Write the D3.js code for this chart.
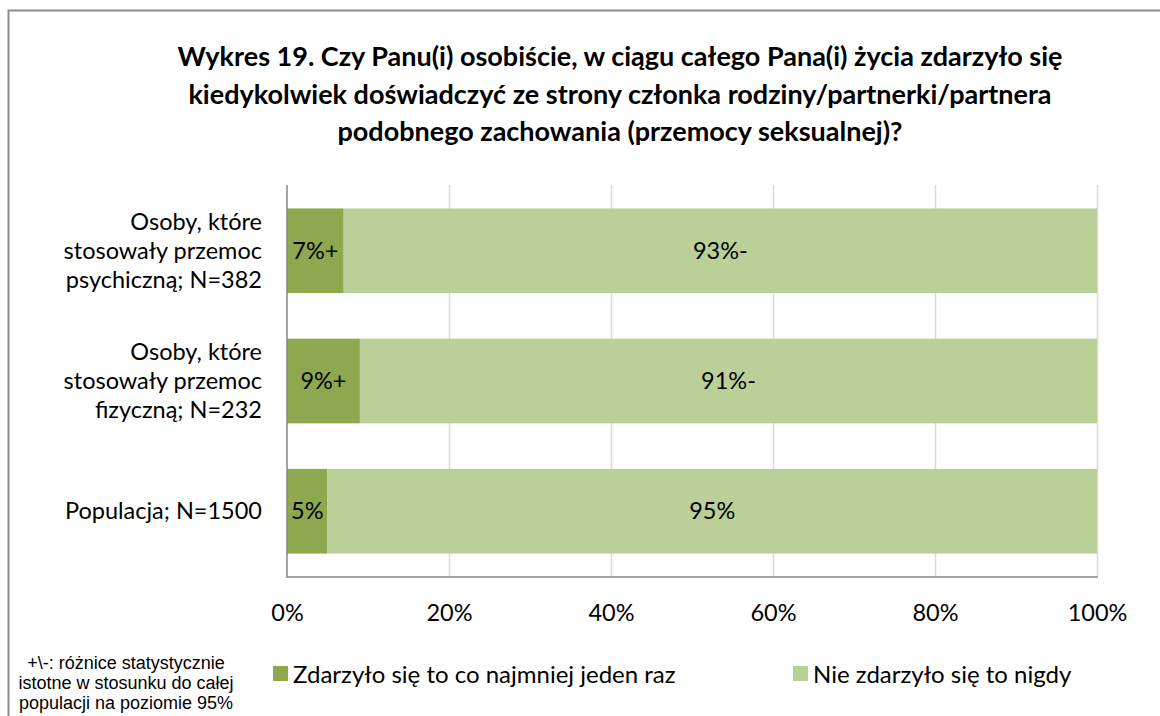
<!DOCTYPE html>
<html>
<head>
<meta charset="utf-8">
<script src="https://cdn.jsdelivr.net/npm/d3@7"></script>
<style>
  body { margin: 0; background: #fff; }
  svg text { font-family: Lato, "Open Sans", sans-serif; }
</style>
</head>
<body>
<div id="chart"></div>
<script>
// dane wykresu
const titleLines = [
    'Wykres 19. Czy Panu(i) osobiście, w ciągu całego Pana(i) życia zdarzyło się',
    'kiedykolwiek doświadczyć ze strony członka rodziny/partnerki/partnera',
    'podobnego zachowania (przemocy seksualnej)?'
];
const categories = [
    ['Osoby, które', 'stosowały przemoc', 'psychiczną; N=382'],
    ['Osoby, które', 'stosowały przemoc', 'fizyczną; N=232'],
    ['Populacja; N=1500']
];
const seriesNames = ['Zdarzyło się to co najmniej jeden raz', 'Nie zdarzyło się to nigdy'];
const happened = [7, 9, 5];
const never = [93, 91, 95];
const happenedLabels = ['7%+', '9%+', '5%'];
const neverLabels = ['93%-', '91%-', '95%'];
const tickValues = [0, 20, 40, 60, 80, 100];
const footnote = ['+\\-: różnice statystycznie', 'istotne w stosunku do całej', 'populacji na poziomie 95%'];

const colors = ['#8ea850', '#bbcf99'];
const fontSize = 23.5;

const width = 1160, height = 716;
const svg = d3.select('#chart').append('svg')
    .attr('width', width)
    .attr('height', height);

// ramka wykresu
svg.append('path')
    .attr('d', `M8.5,${height} V10.5 H${width}`)
    .attr('fill', 'none')
    .attr('stroke', '#8c8c8c')
    .attr('stroke-width', 2);

// tytuł
svg.append('text')
    .attr('text-anchor', 'middle')
    .attr('font-weight', 'bold')
    .attr('font-size', 27)
    .attr('fill', '#000')
    .selectAll('tspan')
    .data(titleLines)
    .join('tspan')
    .attr('x', 620)
    .attr('y', (d, i) => 66 + i * 37.5)
    .text(d => d);

const plot = { left: 287, right: 1097, top: 185, bottom: 577 };

const x = d3.scaleLinear().domain([0, 100]).range([plot.left, plot.right]);
const y = d3.scaleBand()
    .domain(d3.range(categories.length))
    .range([plot.top, plot.bottom])
    .paddingInner(0.35)
    .paddingOuter(0.18);

// linie siatki
svg.append('g')
    .selectAll('line')
    .data(tickValues.slice(1))
    .join('line')
    .attr('x1', d => x(d) + 0.5)
    .attr('x2', d => x(d) + 0.5)
    .attr('y1', plot.top)
    .attr('y2', plot.bottom)
    .attr('stroke', '#d9d9d9')
    .attr('stroke-width', 1.5);

// słupki
const rows = categories.map((c, i) => ({ i, a: happened[i], b: never[i] }));
const g = svg.append('g');
g.selectAll('rect.a')
    .data(rows)
    .join('rect')
    .attr('class', 'a')
    .attr('x', x(0))
    .attr('y', d => y(d.i))
    .attr('width', d => x(d.a) - x(0))
    .attr('height', y.bandwidth())
    .attr('fill', colors[0]);
g.selectAll('rect.b')
    .data(rows)
    .join('rect')
    .attr('class', 'b')
    .attr('x', d => x(d.a))
    .attr('y', d => y(d.i))
    .attr('width', d => x(d.a + d.b) - x(d.a))
    .attr('height', y.bandwidth())
    .attr('fill', colors[1]);

// etykiety danych
g.selectAll('text.la')
    .data(rows)
    .join('text')
    .attr('class', 'la')
    .attr('x', d => (x(0) + x(d.a)) / 2)
    .attr('y', d => y(d.i) + y.bandwidth() / 2 + 8)
    .attr('text-anchor', 'middle')
    .attr('font-size', fontSize)
    .text(d => happenedLabels[d.i]);
g.selectAll('text.lb')
    .data(rows)
    .join('text')
    .attr('class', 'lb')
    .attr('x', d => (x(d.a) + x(d.a + d.b)) / 2)
    .attr('y', d => y(d.i) + y.bandwidth() / 2 + 8)
    .attr('text-anchor', 'middle')
    .attr('font-size', fontSize)
    .text(d => neverLabels[d.i]);

// osie
svg.append('line')
    .attr('x1', plot.left).attr('x2', plot.left)
    .attr('y1', plot.top).attr('y2', plot.bottom + 1)
    .attr('stroke', '#868686').attr('stroke-width', 1.5);
svg.append('line')
    .attr('x1', plot.left).attr('x2', plot.right + 1)
    .attr('y1', plot.bottom).attr('y2', plot.bottom)
    .attr('stroke', '#868686').attr('stroke-width', 1.5);

const xAxis = d3.axisBottom(x)
    .tickValues(tickValues)
    .tickSize(0)
    .tickPadding(27)
    .tickFormat(d => d + '%');
svg.append('g')
    .attr('transform', `translate(0,${plot.bottom})`)
    .call(xAxis)
    .call(s => s.select('.domain').remove())
    .call(s => s.selectAll('text')
        .attr('font-size', fontSize)
        .attr('fill', '#000')
        .style('font-family', 'Lato, "Open Sans", sans-serif'));

// etykiety kategorii
svg.append('g')
    .selectAll('text')
    .data(categories.map((lines, i) => ({ lines, i })))
    .join('text')
    .attr('text-anchor', 'end')
    .attr('font-size', fontSize)
    .each(function (d) {
        const cy = y(d.i) + y.bandwidth() / 2;
        const lh = 29;
        const start = cy - (d.lines.length - 1) * lh / 2 + 8;
        d3.select(this).selectAll('tspan')
            .data(d.lines)
            .join('tspan')
            .attr('x', 262)
            .attr('y', (l, k) => start + k * lh)
            .text(l => l);
    });

// legenda
const legendX = [273, 793];
const legend = svg.append('g')
    .selectAll('g')
    .data(seriesNames)
    .join('g')
    .attr('transform', (d, i) => `translate(${legendX[i]},666)`);
legend.append('rect')
    .attr('width', 15)
    .attr('height', 15)
    .attr('fill', (d, i) => colors[i]);
legend.append('text')
    .attr('x', 20)
    .attr('y', 17)
    .attr('font-size', 24)
    .text(d => d);

// przypis
svg.append('text')
    .attr('text-anchor', 'middle')
    .attr('font-size', 18)
    .style('font-family', '"Liberation Sans", Arial, sans-serif')
    .selectAll('tspan')
    .data(footnote)
    .join('tspan')
    .attr('x', 126)
    .attr('y', (d, i) => 669 + i * 20)
    .text(d => d);
</script>
</body>
</html>
